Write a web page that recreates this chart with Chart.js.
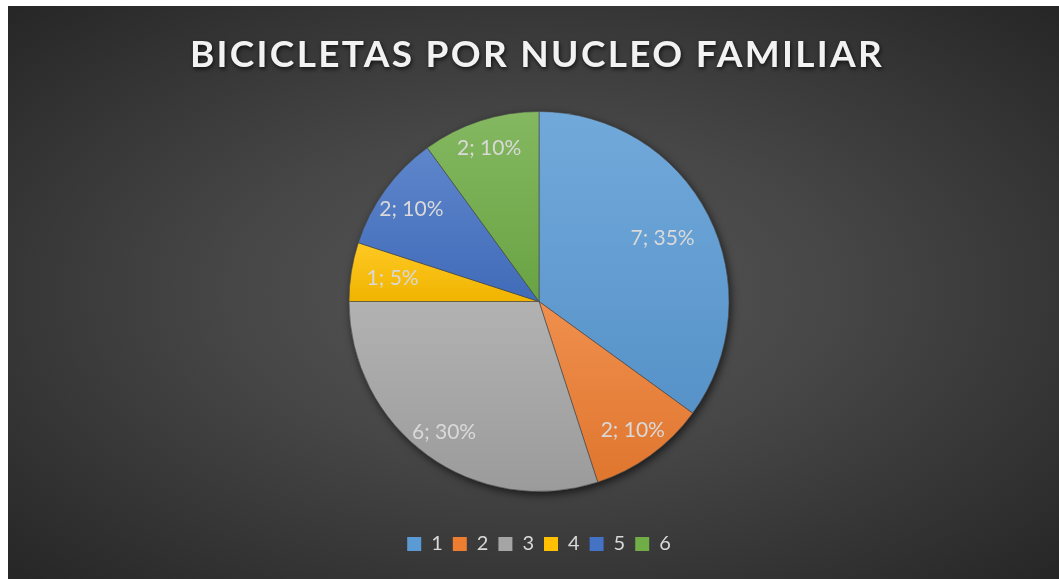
<!DOCTYPE html>
<html>
<head>
<meta charset="utf-8">
<script src="https://cdn.jsdelivr.net/npm/chart.js@4.4.0/dist/chart.umd.min.js"></script>
<style>
html, body { margin: 0; padding: 0; background: #fff; }
#wrap {
	position: absolute; left: 8px; top: 6px; width: 1051px; height: 573px;
	background: radial-gradient(ellipse at 50% 50%, #575757 0%, #474747 40%, #262626 100%);
}
</style>
</head>
<body>
<div id="wrap"><canvas id="chart" width="1051" height="573"></canvas></div>
<script>
var title = 'BICICLETAS POR NUCLEO FAMILIAR';
var labels = ['1', '2', '3', '4', '5', '6'];
var counts = [7, 2, 6, 1, 2, 2];
var colors = ['#5B9BD5', '#ED7D31', '#A5A5A5', '#FFC000', '#4472C4', '#70AD47'];

var PIE_R = 190;

function mix(hex, target, amt) {
	var n = parseInt(hex.slice(1), 16);
	var r = n >> 16, g = (n >> 8) & 255, b = n & 255;
	r = Math.round(r + (target - r) * amt);
	g = Math.round(g + (target - g) * amt);
	b = Math.round(b + (target - b) * amt);
	return 'rgb(' + r + ',' + g + ',' + b + ')';
}

// vertical gradient over each slice's own bounding box
function sliceFill(ctx) {
	var i = ctx.dataIndex;
	var area = ctx.chart.chartArea;
	if (!area || i === undefined) return colors[i];
	var cx = (area.left + area.right) / 2, cy = (area.top + area.bottom) / 2;
	var total = counts.reduce(function(a, b) { return a + b; }, 0);
	var before = 0;
	for (var k = 0; k < i; k++) before += counts[k];
	var a0 = -Math.PI / 2 + before / total * Math.PI * 2;
	var a1 = a0 + counts[i] / total * Math.PI * 2;
	var ys = [cy, cy + PIE_R * Math.sin(a0), cy + PIE_R * Math.sin(a1)];
	[-Math.PI / 2, Math.PI / 2, Math.PI * 1.5].forEach(function(a) {
		if (a > a0 && a < a1) ys.push(cy + PIE_R * Math.sin(a));
	});
	var top = Math.min.apply(null, ys), bottom = Math.max.apply(null, ys);
	var g = ctx.chart.ctx.createLinearGradient(0, top, 0, bottom);
	g.addColorStop(0, mix(colors[i], 255, 0.14));
	g.addColorStop(1, mix(colors[i], 0, 0.06));
	return g;
}

var pieShadow = {
	id: 'pieShadow',
	beforeDatasetsDraw: function(chart) {
		var arc = chart.getDatasetMeta(0).data[0];
		if (!arc) return;
		var c = chart.ctx;
		c.save();
		c.shadowColor = 'rgba(0,0,0,0.65)';
		c.shadowBlur = 9;
		c.shadowOffsetX = 2;
		c.shadowOffsetY = 3;
		c.fillStyle = '#444';
		c.beginPath();
		c.arc(arc.x, arc.y, arc.outerRadius, 0, Math.PI * 2);
		c.fill();
		c.restore();
	}
};

var sliceLabels = {
	id: 'sliceLabels',
	afterDatasetsDraw: function(chart, args, opts) {
		var c = chart.ctx;
		var total = counts.reduce(function(a, b) { return a + b; }, 0);
		c.save();
		c.font = opts.font;
		c.fillStyle = opts.color;
		c.textAlign = 'center';
		c.textBaseline = 'middle';
		chart.getDatasetMeta(0).data.forEach(function(arc, i) {
			var p = arc.getProps(['x', 'y', 'startAngle', 'endAngle', 'outerRadius']);
			var mid = (p.startAngle + p.endAngle) / 2;
			var r = p.outerRadius * opts.radii[i];
			var txt = counts[i] + '; ' + Math.round(counts[i] / total * 100) + '%';
			c.fillText(txt, p.x + r * Math.cos(mid), p.y + r * Math.sin(mid));
		});
		c.restore();
	}
};

var chartTitle = {
	id: 'chartTitle',
	afterDraw: function(chart, args, opts) {
		var c = chart.ctx;
		c.save();
		c.font = opts.font;
		c.letterSpacing = opts.spacing;
		c.fillStyle = opts.color;
		c.textAlign = 'center';
		c.textBaseline = 'middle';
		c.shadowColor = 'rgba(0,0,0,0.7)';
		c.shadowBlur = 4;
		c.shadowOffsetX = 1;
		c.shadowOffsetY = 2;
		c.fillText(title, opts.x, opts.y);
		c.restore();
	}
};

var chart = new Chart(document.getElementById('chart'), {
	type: 'pie',
	data: {
		labels: labels,
		datasets: [{
			data: counts,
			backgroundColor: sliceFill,
			borderColor: 'rgba(70,70,70,0.6)',
			borderWidth: 1,
			radius: PIE_R
		}]
	},
	plugins: [pieShadow, sliceLabels, chartTitle],
	options: {
		responsive: false,
		animation: false,
		layout: { padding: { top: 73, bottom: 15, left: 16, right: 5 } },
		plugins: {
			title: { display: false },
			tooltip: { enabled: false },
			legend: {
				position: 'bottom',
				labels: {
					boxWidth: 14,
					boxHeight: 14,
					padding: 10,
					color: '#d9d9d9',
					font: { family: 'Lato', size: 20 },
					generateLabels: function(chart) {
						return labels.map(function(l, i) {
							return { text: l, fillStyle: colors[i], strokeStyle: colors[i], lineWidth: 0, fontColor: '#d9d9d9', index: i, hidden: false };
						});
					}
				}
			},
			sliceLabels: { font: '21px Lato', color: '#d9d9d9', radii: [0.73, 0.84, 0.85, 0.78, 0.83, 0.85] },
			chartTitle: { font: 'bold 37px Lato', spacing: '2.3px', color: '#f2f2f2', x: 529, y: 49 }
		}
	}
});
</script>
</body>
</html>
